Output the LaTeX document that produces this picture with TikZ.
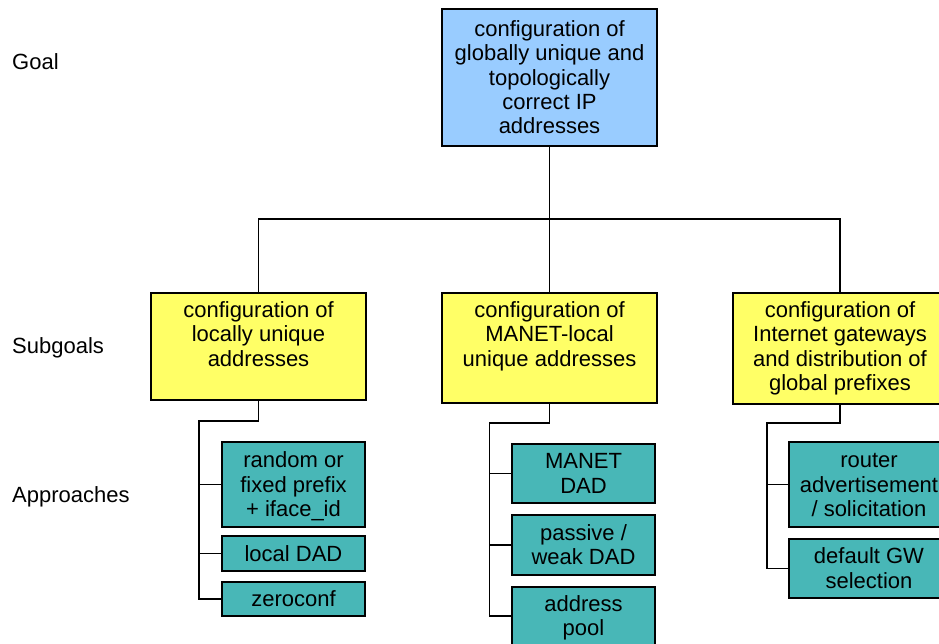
\documentclass[tikz,border=0pt]{standalone}
\usepackage{fontspec}
\setmainfont{Liberation Sans}
\definecolor{goalblue}{RGB}{153,204,255}
\definecolor{subyellow}{RGB}{255,255,102}
\definecolor{appteal}{RGB}{72,183,183}
% line strut: a little less depth than \strut, so text sits lower in its box
\newcommand\tstrut{\rule[-4.6pt]{0pt}{24.2pt}}
\begin{document}
\begin{tikzpicture}[x=1pt,y=-1pt,
  every node/.style={font=\fontsize{22}{24.2}\selectfont},
  box/.style={draw=black, line width=1.4pt, rectangle, inner sep=0pt, align=center},
  goalbox/.style={box, fill=goalblue, minimum width=215pt, minimum height=137pt},
  subbox/.style={box, fill=subyellow, minimum width=215pt},
  appbox/.style={box, fill=appteal, minimum width=143pt},
  boxtext/.style={inner sep=0pt, align=center, anchor=north},
  tier/.style={anchor=base west, inner sep=0pt},
  conn/.style={draw=black, line width=1.2pt}
]
\useasboundingbox (0,0) rectangle (939,643);
\clip (0,0) rectangle (939,643);

% tier labels
\node[tier] (lgoal) at (12,69) {Goal};
\node[tier] (lsub) at (12,353) {Subgoals};
\node[tier] (lapp) at (12,502) {Approaches};

% goal
\node[goalbox] (goal) at (549.5,77.5)
  {\tstrut configuration of\\globally unique and\\topologically\\correct IP\\addresses\tstrut};

% subgoals (text sits at the top of each box)
\node[subbox, minimum height=107pt] (s1) at (258.5,346.5) {};
\node[subbox, minimum height=110pt] (s2) at (549.5,348) {};
\node[subbox, minimum width=214pt, minimum height=111pt] (s3) at (840,348.5) {};
\node[boxtext] (s1t) at ([yshift=-5.5pt]s1.north)
  {\tstrut configuration of\\locally unique\\addresses\tstrut};
\node[boxtext] (s2t) at ([yshift=-5.5pt]s2.north)
  {\tstrut configuration of\\MANET-local\\unique addresses\tstrut};
\node[boxtext] (s3t) at ([yshift=-5.5pt]s3.north)
  {\tstrut configuration of\\Internet gateways\\and distribution of\\global prefixes\tstrut};

% approaches, first column
\node[appbox, minimum height=85pt] (a1) at (293.5,484.5)
  {\tstrut random or\\fixed prefix\\+ iface\_id\tstrut};
\node[appbox, minimum height=35pt] (a2) at (293.5,553.5) {\tstrut local DAD\tstrut};
\node[appbox, minimum height=34pt] (a3) at (293.5,599) {\tstrut zeroconf\tstrut};

% approaches, second column
\node[appbox, minimum height=59pt] (b1) at (583.5,473.5) {\tstrut MANET\\DAD\tstrut};
\node[appbox, minimum height=60pt] (b2) at (583.5,545) {\tstrut passive /\\weak DAD\tstrut};
\node[appbox, minimum height=58pt] (b3) at (583.5,616) {\tstrut address\\pool\tstrut};

% approaches, third column
\node[appbox, minimum width=160pt, minimum height=85pt] (c1) at (869,484.5)
  {\tstrut router\\advertisement\\/ solicitation\tstrut};
\node[appbox, minimum width=160pt, minimum height=59pt] (c2) at (869,568.5)
  {\tstrut default GW\\selection\tstrut};

% junction points of the trees
\coordinate (bus) at (549.5,219);
\coordinate (j1) at (199,421);
\coordinate (j2) at (489.5,423);
\coordinate (j3) at (767,423);

% goal to subgoals
\draw[conn] (goal.south) -- (goal.south |- bus) -| (s1.north);
\draw[conn] (goal.south |- bus) -- (s2.north);
\draw[conn] (goal.south |- bus) -| (s3.north);

% subgoals to approaches
\draw[conn] (s1.south) |- (j1) |- (a1.west);
\draw[conn] (j1) |- (a2.west);
\draw[conn] (j1) |- (a3.west);
\draw[conn] (s2.south) |- (j2) |- (b1.west);
\draw[conn] (j2) |- (b2.west);
\draw[conn] (j2) |- (b3.west);
\draw[conn] (s3.south) |- (j3) |- (c1.west);
\draw[conn] (j3) |- (c2.west);
\end{tikzpicture}
\end{document}
